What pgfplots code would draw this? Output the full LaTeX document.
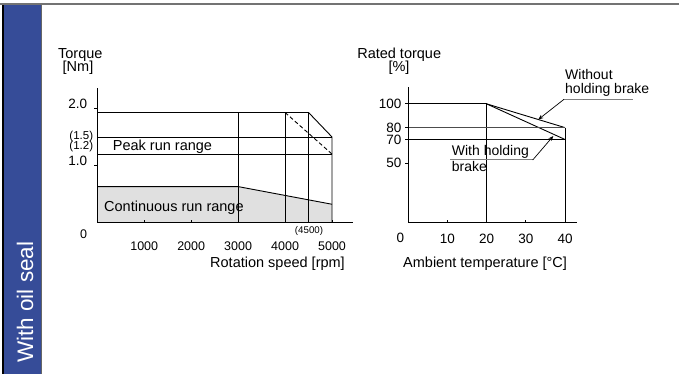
\documentclass[border=0pt]{standalone}
\usepackage{pgfplots}
\pgfplotsset{compat=1.18}
\usepackage{fontspec}
\setmainfont{Liberation Sans}
\usetikzlibrary{arrows.meta}
\definecolor{band}{RGB}{54,76,152}
\definecolor{fillgray}{RGB}{224,224,224}
\newcommand{\lab}{\fontsize{14.5}{16}\selectfont}
\newcommand{\tck}{\fontsize{12.5}{14}\selectfont}
\newcommand{\ytck}{\fontsize{13.5}{15}\selectfont}
\newcommand{\sml}{\fontsize{11.5}{12}\selectfont}
\newcommand{\tinyf}{\fontsize{9.7}{11}\selectfont}
\pgfplotsset{ln/.style={black, line width=0.9pt, mark=none, solid}}
\begin{document}
\begin{tikzpicture}[t/.style={inner sep=0pt}]
\useasboundingbox (0pt,0pt) rectangle (679pt,-374pt);
\fill[white] (0pt,0pt) rectangle (679pt,-374pt);
% frame and side band
\fill[band] (4pt,-5pt) rectangle (41pt,-374pt);
\draw[black!60, line width=0.8pt] (41pt,-5pt) -- (41pt,-374pt);
\draw[black, line width=1.3pt] (3pt,-4pt) -- (3pt,-374pt);
\draw[black!55, line width=1.6pt] (0pt,-4pt) -- (679pt,-4pt);
\node[t, rotate=90, anchor=base west, text=white, font=\fontsize{22.5}{24}\selectfont] at (33pt,-363pt) {With oil seal};

% ---------------- left chart ----------------
\begin{axis}[
  at={(97.3pt,-222.5pt)}, anchor=south west,
  scale only axis, width=255.7pt, height=134.5pt,
  xmin=0, xmax=5447, ymin=0, ymax=2.36,
  axis lines=left, axis line style={-, line width=0.9pt},
  axis on top, clip=false,
  tick align=inside, major tick length=3pt,
  tick style={black, line width=0.8pt},
  ytick style={xshift=-3pt},
  xtick={1000,2000,3000,4000,5000},
  xticklabels={1000,2000,3000,4000,5000},
  ytick={1,2}, yticklabels={1.0,2.0},
  xticklabel style={font=\tck, inner sep=0pt, anchor=base, yshift=-27.5pt},
  yticklabel style={font=\ytck, inner sep=0pt, anchor=base east, xshift=-10pt},
]
\addplot[fill=fillgray, draw=none, mark=none] coordinates {(0,0) (0,0.63) (3000,0.63) (5000,0.32) (5000,0)} -- cycle;
\addplot[ln] coordinates {(0,0.63) (3000,0.63) (5000,0.32)};
\addplot[ln] coordinates {(0,1.93) (4500,1.93) (5000,1.5) (5000,0)};
\addplot[ln] coordinates {(0,1.5) (5000,1.5)};
\addplot[ln] coordinates {(0,1.2) (5000,1.2)};
\addplot[ln] coordinates {(3000,0) (3000,1.93)};
\addplot[ln] coordinates {(4000,0) (4000,1.93)};
\addplot[ln] coordinates {(4500,0) (4500,1.93)};
\addplot[ln, dash pattern=on 4pt off 2.5pt] coordinates {(4000,1.93) (5000,1.2)};
\end{axis}

% ---------------- right chart ----------------
\begin{axis}[
  at={(408.2pt,-222.6pt)}, anchor=south west,
  scale only axis, width=168.8pt, height=135.6pt,
  xmin=0, xmax=43.06, ymin=0, ymax=114.2,
  axis lines=left, axis line style={-, line width=0.9pt},
  axis on top, clip=false,
  tick align=inside, major tick length=3pt,
  tick style={black, line width=0.8pt},
  ytick style={xshift=-3pt},
  xtick={10,20,30,40}, xticklabels={10,20,30,40},
  ytick={50,70,80,100}, yticklabels={50,70,80,100},
  xticklabel style={font=\ytck, inner sep=0pt, anchor=base, yshift=-20.4pt},
  yticklabel style={font=\ytck, inner sep=0pt, anchor=east, xshift=-6.5pt},
]
\addplot[ln] coordinates {(0,100) (20,100)};
\addplot[ln] coordinates {(20,0) (20,100)};
\addplot[ln] coordinates {(20,100) (40,80)};
\addplot[ln] coordinates {(20,100) (40,70)};
\addplot[ln, black!70] coordinates {(0,80) (40,80)};
\addplot[ln] coordinates {(0,70) (40,70)};
\addplot[ln] coordinates {(40,0) (40,80)};
\end{axis}

% ---------------- texts left ----------------
\node[t, anchor=base, font=\lab] at (80.3pt,-58.5pt) {Torque};
\node[t, anchor=base, font=\lab] at (78pt,-71.5pt) {[Nm]};
\node[t, anchor=east, font=\sml] at (93.3pt,-136.4pt) {(1.5)};
\node[t, anchor=east, font=\sml] at (93.3pt,-147pt) {(1.2)};
\node[t, font=\tck] at (83.7pt,-234pt) {0};
\node[t, font=\tinyf] at (309pt,-231pt) {(4500)};
\node[t, anchor=base east, font=\lab] at (345pt,-267.3pt) {Rotation speed [rpm]};
\node[t, anchor=base west, font=\lab] at (112.7pt,-150pt) {Peak run range};
\node[t, anchor=base west, font=\lab] at (104pt,-211.7pt) {Continuous run range};

% ---------------- texts right ----------------
\node[t, anchor=base, font=\lab] at (399.2pt,-58.5pt) {Rated torque};
\node[t, anchor=base, font=\lab] at (399pt,-71.5pt) {[\%]};
\node[t, font=\ytck] at (400.3pt,-238pt) {0};
\node[t, anchor=base west, font=\lab] at (403pt,-267pt) {Ambient temperature [°C]};
\node[t, anchor=base west, font=\fontsize{14}{15}\selectfont] at (565pt,-80pt) {Without};
\node[t, anchor=base west, font=\fontsize{14}{15}\selectfont] at (565pt,-93.3pt) {holding brake};
\draw[black!50, line width=1pt] (563pt,-99.3pt) -- (633.3pt,-99.3pt);
\draw[-{Stealth[length=5pt,width=4pt]}, line width=0.7pt] (564pt,-99.3pt) -- (538.3pt,-119.5pt);
\node[t, anchor=base west, font=\fontsize{14}{15}\selectfont] at (451.7pt,-156pt) {With holding};
\node[t, anchor=base west, font=\fontsize{14}{15}\selectfont] at (451.7pt,-171.7pt) {brake};
\draw[black!50, line width=1pt] (450pt,-160pt) -- (532.7pt,-160pt);
\draw[-{Stealth[length=5pt,width=4pt]}, line width=0.7pt] (532.7pt,-160pt) -- (553.3pt,-136pt);
\end{tikzpicture}
\end{document}
